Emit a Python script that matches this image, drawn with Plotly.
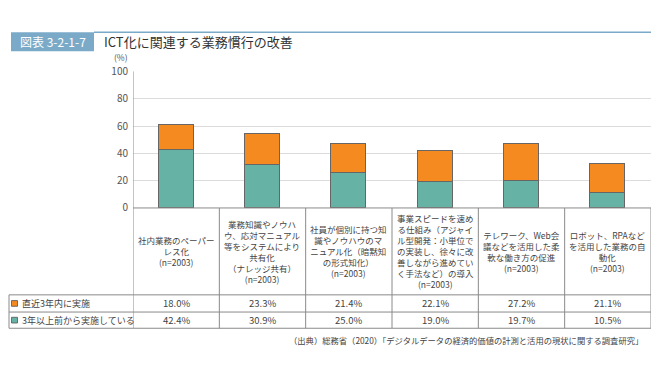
import plotly.graph_objects as go

categories = [
    "社内業務のペーパー<br>レス化<br>(n=2003)",
    "業務知識やノウハ<br>ウ、応対マニュアル<br>等をシステムにより<br>共有化<br>（ナレッジ共有）<br>(n=2003)",
    "社員が個別に持つ知<br>識やノウハウのマ<br>ニュアル化（暗黙知<br>の形式知化）<br>(n=2003)",
    "事業スピードを速め<br>る仕組み（アジャイ<br>ル型開発：小単位で<br>の実装し、徐々に改<br>善しながら進めてい<br>く手法など）の導入<br>(n=2003)",
    "テレワーク、Web会<br>議などを活用した柔<br>軟な働き方の促進<br>(n=2003)",
    "ロボット、RPAなど<br>を活用した業務の自<br>動化<br>(n=2003)",
]
recent = [18.0, 23.3, 21.4, 22.1, 27.2, 21.1]   # 直近3年内に実施
older = [42.4, 30.9, 25.0, 19.0, 19.7, 10.5]    # 3年以上前から実施している
series_names = ["直近3年内に実施", "3年以上前から実施している"]
y_ticks = [0, 20, 40, 60, 80, 100]

# page body keeps its default 8px margin; figure sized so the page is 660x370
OFF = 8
W, H = 660 - 2 * OFF, 370 - 2 * OFF
FONT = "Noto Sans CJK JP"
ORANGE = "#F58A20"
TEAL = "#66B2A4"
LINE = "#8a8a8a"
BLUE = "#7aaac8"


def px(x):
    return (x - OFF) / W


def py(y):
    return 1 - (y - OFF) / H


X_L, X_R = 133, 651
Y_TOP, Y_ZERO = 65, 208
T_TOP, T_MID, T_BOT = 299, 317, 334
T_LEFT = 9

xs = list(range(len(categories)))

fig = go.Figure()
fig.add_trace(go.Bar(
    x=xs, y=older, name=series_names[1], width=0.405,
    marker=dict(color=TEAL, line=dict(color="#666666", width=1)),
))
fig.add_trace(go.Bar(
    x=xs, y=recent, name=series_names[0], width=0.405,
    marker=dict(color=ORANGE, line=dict(color="#666666", width=1)),
))

shapes = []
annotations = []

# title block
shapes.append(dict(type="rect", xref="paper", yref="paper",
                   x0=px(11), x1=px(94), y0=py(44), y1=py(24),
                   fillcolor=BLUE, line=dict(width=0), layer="above"))
shapes.append(dict(type="line", xref="paper", yref="paper",
                   x0=px(94), x1=px(651), y0=py(24), y1=py(24),
                   line=dict(color=BLUE, width=1.5)))
annotations.append(dict(text="図表 3-2-1-7", xref="paper", yref="paper",
                        x=px(52.5), y=py(34), showarrow=False,
                        font=dict(family=FONT, size=12, color="white"),
                        xanchor="center", yanchor="middle"))
annotations.append(dict(text="ICT化に関連する業務慣行の改善", xref="paper", yref="paper",
                        x=px(102), y=py(34), showarrow=False,
                        font=dict(family=FONT, size=13, color="#333333"),
                        xanchor="left", yanchor="middle"))
annotations.append(dict(text="(%)", xref="paper", yref="paper",
                        x=px(121), y=py(50), showarrow=False,
                        font=dict(family=FONT, size=8.5, color="#555555"),
                        xanchor="center", yanchor="middle"))

# vertical dividers in category/table area
for i in range(len(categories) + 1):
    xb = i - 0.5
    shapes.append(dict(type="line", xref="x", yref="paper",
                       x0=xb, x1=xb, y0=py(Y_ZERO), y1=py(T_BOT),
                       line=dict(color=LINE, width=1)))
# left axis line through plot
shapes.append(dict(type="line", xref="x", yref="paper",
                   x0=-0.5, x1=-0.5, y0=py(Y_TOP), y1=py(Y_ZERO),
                   line=dict(color=LINE, width=1)))
# horizontal table lines
for yy in (T_TOP, T_MID, T_BOT):
    shapes.append(dict(type="line", xref="paper", yref="paper",
                       x0=px(T_LEFT), x1=px(X_R), y0=py(yy), y1=py(yy),
                       line=dict(color=LINE, width=1)))
shapes.append(dict(type="line", xref="paper", yref="paper",
                   x0=px(T_LEFT), x1=px(T_LEFT), y0=py(T_TOP), y1=py(T_BOT),
                   line=dict(color=LINE, width=1)))
# zero line
shapes.append(dict(type="line", xref="paper", yref="paper",
                   x0=px(X_L), x1=px(X_R), y0=py(Y_ZERO), y1=py(Y_ZERO),
                   line=dict(color=LINE, width=1)))

# category labels
for i, c in enumerate(categories):
    annotations.append(dict(text=c, xref="x", yref="paper",
                            x=i, y=py((Y_ZERO + T_TOP) / 2), showarrow=False,
                            font=dict(family=FONT, size=8.5, color="#444444"),
                            xanchor="center", yanchor="middle", align="center"))

# table rows
rows = [(series_names[0], recent, ORANGE, (T_TOP + T_MID) / 2),
        (series_names[1], older, TEAL, (T_MID + T_BOT) / 2)]
for name, vals, col, yc in rows:
    shapes.append(dict(type="rect", xref="paper", yref="paper",
                       x0=px(11.5), x1=px(17.5), y0=py(yc + 3), y1=py(yc - 3),
                       fillcolor=col, line=dict(color="#555555", width=0.8)))
    annotations.append(dict(text=name, xref="paper", yref="paper",
                            x=px(20), y=py(yc), showarrow=False,
                            font=dict(family=FONT, size=9, color="#444444"),
                            xanchor="left", yanchor="middle"))
    for i, v in enumerate(vals):
        annotations.append(dict(text=f"{v:.1f}%", xref="x", yref="paper",
                                x=i, y=py(yc), showarrow=False,
                                font=dict(family=FONT, size=9.5, color="#444444"),
                                xanchor="center", yanchor="middle"))

annotations.append(dict(
    text="（出典）総務省（2020）「デジタルデータの経済的価値の計測と活用の現状に関する調査研究」",
    xref="paper", yref="paper", x=px(645), y=py(346), showarrow=False,
    font=dict(family=FONT, size=8.3, color="#444444"),
    xanchor="right", yanchor="middle"))

fig.update_layout(
    width=W, height=H,
    margin=dict(l=0, r=0, t=0, b=0),
    paper_bgcolor="white", plot_bgcolor="white",
    barmode="stack", showlegend=False,
    bargap=0,
    xaxis=dict(domain=[px(X_L), px(X_R)], range=[-0.5, 5.5],
               showticklabels=False, showgrid=False, zeroline=False,
               showline=False, fixedrange=True),
    yaxis=dict(domain=[py(Y_ZERO), py(Y_TOP)], range=[0, 100],
               tickvals=y_ticks, showgrid=True, gridcolor="#dcdcdc",
               gridwidth=1, zeroline=False, showline=False,
               ticks="", ticklabelstandoff=4,
               tickfont=dict(family=FONT, size=10, color="#555555")),
    shapes=shapes, annotations=annotations,
    font=dict(family=FONT),
)

fig.write_html("out.html", config={"displayModeBar": False})
